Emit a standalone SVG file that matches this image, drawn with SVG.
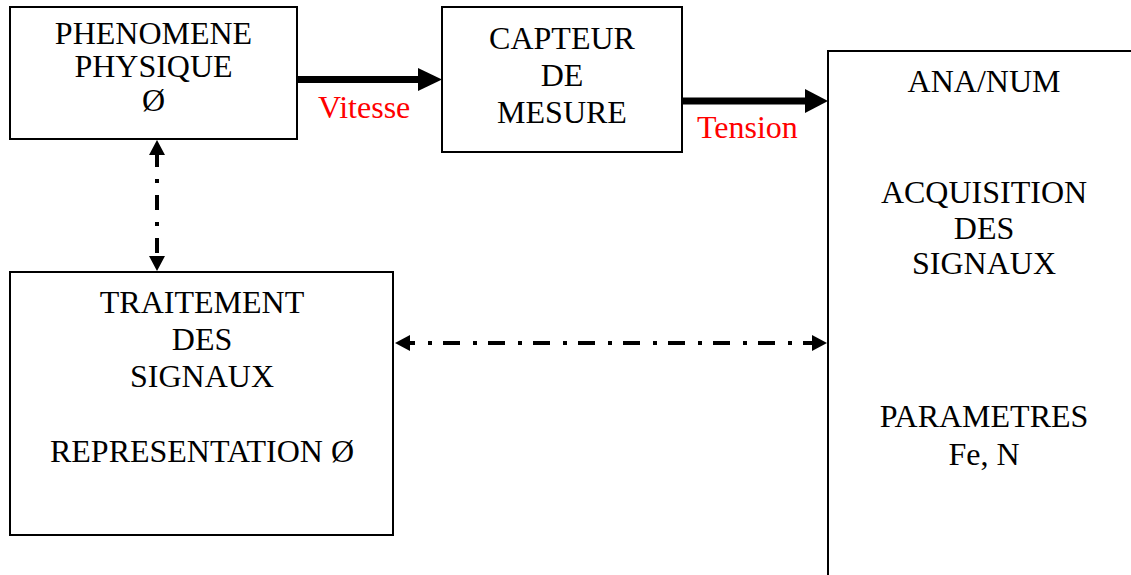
<svg xmlns="http://www.w3.org/2000/svg" width="1131" height="575" viewBox="0 0 1131 575">
<style>
.box{fill:#fff;stroke:#000;stroke-width:2}
.t{font-family:"Liberation Serif","Times New Roman",serif;font-size:32px;fill:#000;text-anchor:middle}
.lbl{font-family:"Liberation Serif","Times New Roman",serif;font-size:32px;fill:#ff0000}
.thick{stroke:#000;stroke-width:7;fill:none}
.dd{stroke:#000;stroke-width:4;fill:none}
</style>
<defs>
<marker id="ah" viewBox="0 0 15 16" refX="0" refY="8" markerWidth="15" markerHeight="16" markerUnits="userSpaceOnUse" orient="auto-start-reverse">
<path d="M0,0 L15,8 L0,16 z" fill="#000"/>
</marker>
</defs>
<rect width="1131" height="575" fill="#fff"/>
<g id="phenomene">
<rect class="box" x="10" y="7" width="287" height="132"/>
<text class="t" x="153.5" y="44">PHENOMENE</text>
<text class="t" x="153.5" y="77">PHYSIQUE</text>
<text class="t" x="153.5" y="111">Ø</text>
</g>
<g id="capteur">
<rect class="box" x="442" y="7" width="240" height="145"/>
<text class="t" x="562" y="49">CAPTEUR</text>
<text class="t" x="562" y="86">DE</text>
<text class="t" x="562" y="123">MESURE</text>
</g>
<g id="acquisition">
<rect class="box" x="828" y="51" width="400" height="600"/>
<text class="t" x="984" y="92">ANA/NUM</text>
<text class="t" x="984" y="203">ACQUISITION</text>
<text class="t" x="984" y="239">DES</text>
<text class="t" x="984" y="274">SIGNAUX</text>
<text class="t" x="984" y="427">PARAMETRES</text>
<text class="t" x="984" y="465">Fe, N</text>
</g>
<g id="traitement">
<rect class="box" x="10" y="272" width="383" height="263"/>
<text class="t" x="202" y="313">TRAITEMENT</text>
<text class="t" x="202" y="350">DES</text>
<text class="t" x="202" y="387">SIGNAUX</text>
<text class="t" x="202" y="462">REPRESENTATION Ø</text>
</g>
<g id="connectors">
<line class="thick" x1="297" y1="79.5" x2="419" y2="79.5"/>
<polygon points="418,68 442,79.5 418,91" fill="#000"/>
<text class="lbl" x="318" y="118">Vitesse</text>
<line class="thick" x1="683" y1="101" x2="806" y2="101"/>
<polygon points="805,89 828,101 805,113" fill="#000"/>
<text class="lbl" x="697" y="138">Tension</text>
<line class="dd" x1="157" y1="155" x2="157" y2="256" stroke-dasharray="15 12 4 12" stroke-dashoffset="3" marker-start="url(#ah)" marker-end="url(#ah)"/>
<line class="dd" x1="410" y1="343" x2="812" y2="343" stroke-dasharray="17 13 4 11" stroke-dashoffset="12" marker-start="url(#ah)" marker-end="url(#ah)"/>
</g>
</svg>
